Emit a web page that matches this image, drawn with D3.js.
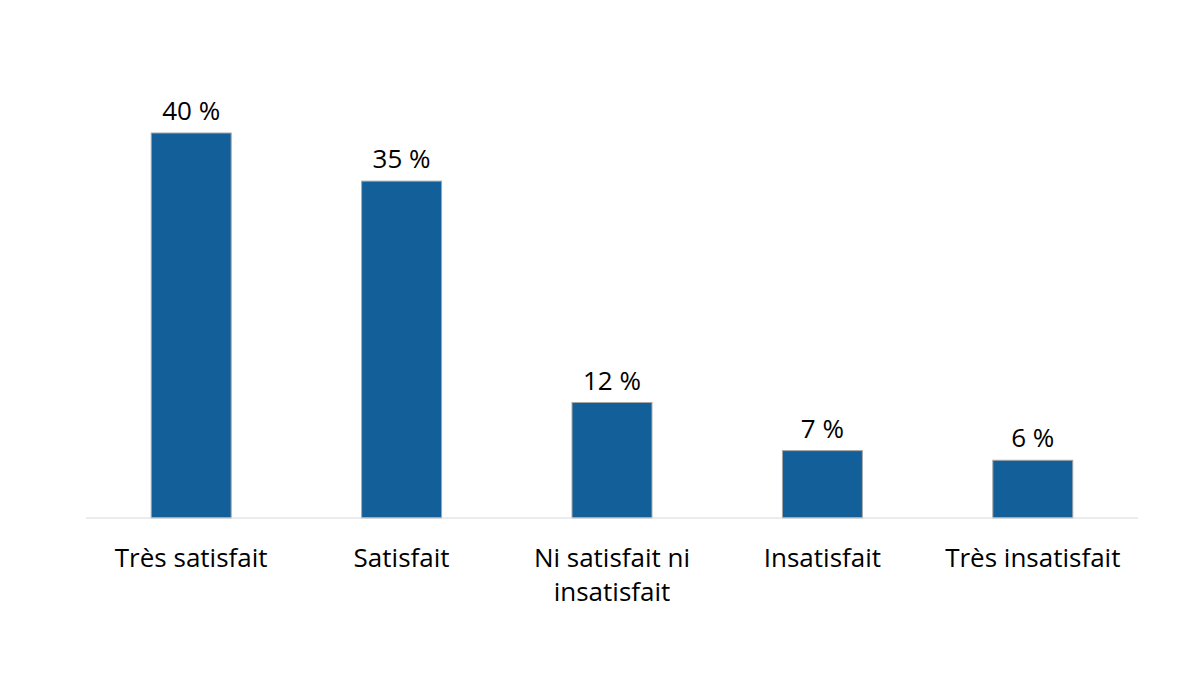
<!DOCTYPE html>
<html lang="fr">
<head>
    <meta charset="UTF-8">
    <title>Satisfaction</title>
    <script src="https://d3js.org/d3.v7.min.js"></script>
    <style>
        body { margin: 0; background: #fff; }
        text { font-family: "Open Sans", "Lato", sans-serif; fill: #000; }
        .value-label { font-size: 26px; text-anchor: middle; }
        .cat-label { font-size: 26px; text-anchor: middle; }
    </style>
</head>
<body>
    <svg id="chart" width="1200" height="675"></svg>
    <script>
        const categories = ["Très satisfait", "Satisfait", "Ni satisfait ni insatisfait", "Insatisfait", "Très insatisfait"];
        const values = [40, 35, 12, 7, 6];
        // wrapped axis labels
        const labelLines = [["Très satisfait"], ["Satisfait"], ["Ni satisfait ni", "insatisfait"], ["Insatisfait"], ["Très insatisfait"]];

        const svg = d3.select("#chart");
        const plotLeft = 86, plotRight = 1138, baseY = 518, topY = 133;

        const x = d3.scaleBand()
            .domain(categories)
            .range([plotLeft, plotRight])
            .paddingInner(0.62)
            .paddingOuter(0.31);

        const y = d3.scaleLinear()
            .domain([0, 40])
            .range([baseY, topY]);

        svg.selectAll(".bar")
            .data(values)
            .enter()
            .append("rect")
            .attr("class", "bar")
            .attr("x", (d, i) => x(categories[i]))
            .attr("y", d => y(d))
            .attr("width", x.bandwidth())
            .attr("height", d => baseY - y(d))
            .attr("fill", "#135f99")
            .attr("stroke", "#a6a6a6")
            .attr("stroke-width", 1);

        // baseline axis
        svg.append("line")
            .attr("x1", plotLeft).attr("x2", plotRight)
            .attr("y1", baseY).attr("y2", baseY)
            .attr("stroke", "#d9d9d9")
            .attr("stroke-width", 1);

        svg.selectAll(".value-label")
            .data(values)
            .enter()
            .append("text")
            .attr("class", "value-label")
            .attr("x", (d, i) => x(categories[i]) + x.bandwidth() / 2)
            .attr("y", d => y(d) - 13)
            .text(d => d + " %");

        const cats = svg.selectAll(".cat-label")
            .data(labelLines)
            .enter()
            .append("text")
            .attr("class", "cat-label")
            .attr("x", (d, i) => x(categories[i]) + x.bandwidth() / 2)
            .attr("y", 567);

        cats.selectAll("tspan")
            .data(d => d)
            .enter()
            .append("tspan")
            .attr("x", function() { return d3.select(this.parentNode).attr("x"); })
            .attr("dy", (d, i) => i === 0 ? 0 : 34)
            .text(d => d);
    </script>
</body>
</html>
